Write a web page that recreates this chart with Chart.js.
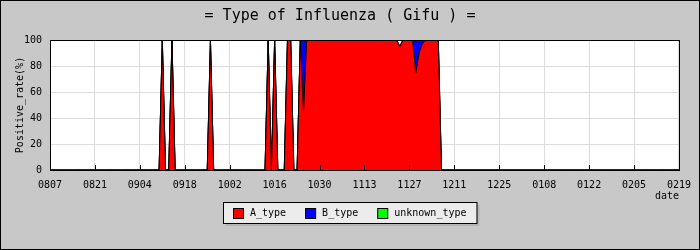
<!DOCTYPE html>
<html>
<head>
<meta charset="utf-8">
<script src="https://cdn.jsdelivr.net/npm/chart.js@4/dist/chart.umd.min.js"></script>
<style>
body { margin: 0; background: #c8c8c8; }
canvas { display: block; }
</style>
</head>
<body>
<canvas id="typeChart" width="700" height="250"></canvas>
<script>
const tickLabels = ['0807', '0821', '0904', '0918', '1002', '1016', '1030', '1113',
    '1127', '1211', '1225', '0108', '0122', '0205', '0219']

// one category per day, 2008-08-07 .. 2009-02-19
const days = []
for (let d = new Date(2008, 7, 7); days.length < 197; d.setDate(d.getDate() + 1)) {
    days.push(String(d.getMonth() + 1).padStart(2, '0') + String(d.getDate()).padStart(2, '0'))
}

// positive rate (%), one row = two weeks
const aType = [
    0, 0, 0, 0, 0, 0, 0, 0, 0, 0, 0, 0, 0, 0,
    0, 0, 0, 0, 0, 0, 0, 0, 0, 0, 0, 0, 0, 0,
    0, 0, 0, 0, 0, 0, 0, 100, 0, 0, 100, 0, 0, 0,
    0, 0, 0, 0, 0, 0, 0, 0, 100, 0, 0, 0, 0, 0,
    0, 0, 0, 0, 0, 0, 0, 0, 0, 0, 0, 0, 100, 0,
    100, 0, 0, 0, 100, 100, 0, 0, 100, 45, 100, 100, 100, 100,
    100, 100, 100, 100, 100, 100, 100, 100, 100, 100, 100, 100, 100, 100,
    100, 100, 100, 100, 100, 100, 100, 100, 100, 100, 100, 95, 100, 100,
    100, 100, 75, 90, 97, 100, 100, 100, 100, 100, 0, 0, 0, 0,
    0, 0, 0, 0, 0, 0, 0, 0, 0, 0, 0, 0, 0, 0,
    0, 0, 0, 0, 0, 0, 0, 0, 0, 0, 0, 0, 0, 0,
    0, 0, 0, 0, 0, 0, 0, 0, 0, 0, 0, 0, 0, 0,
    0, 0, 0, 0, 0, 0, 0, 0, 0, 0, 0, 0, 0, 0,
    0, 0, 0, 0, 0, 0, 0, 0, 0, 0, 0, 0, 0, 0,
    0
]
const bType = [
    0, 0, 0, 0, 0, 0, 0, 0, 0, 0, 0, 0, 0, 0,
    0, 0, 0, 0, 0, 0, 0, 0, 0, 0, 0, 0, 0, 0,
    0, 0, 0, 0, 0, 0, 0, 0, 0, 0, 0, 0, 0, 0,
    0, 0, 0, 0, 0, 0, 0, 0, 0, 0, 0, 0, 0, 0,
    0, 0, 0, 0, 0, 0, 0, 0, 0, 0, 0, 0, 0, 0,
    0, 0, 0, 0, 0, 0, 0, 0, 0, 55, 0, 0, 0, 0,
    0, 0, 0, 0, 0, 0, 0, 0, 0, 0, 0, 0, 0, 0,
    0, 0, 0, 0, 0, 0, 0, 0, 0, 0, 0, 0, 0, 0,
    0, 0, 25, 10, 3, 0, 0, 0, 0, 0, 0, 0, 0, 0,
    0, 0, 0, 0, 0, 0, 0, 0, 0, 0, 0, 0, 0, 0,
    0, 0, 0, 0, 0, 0, 0, 0, 0, 0, 0, 0, 0, 0,
    0, 0, 0, 0, 0, 0, 0, 0, 0, 0, 0, 0, 0, 0,
    0, 0, 0, 0, 0, 0, 0, 0, 0, 0, 0, 0, 0, 0,
    0, 0, 0, 0, 0, 0, 0, 0, 0, 0, 0, 0, 0, 0,
    0
]
const unknownType = [
    0, 0, 0, 0, 0, 0, 0, 0, 0, 0, 0, 0, 0, 0,
    0, 0, 0, 0, 0, 0, 0, 0, 0, 0, 0, 0, 0, 0,
    0, 0, 0, 0, 0, 0, 0, 0, 0, 0, 0, 0, 0, 0,
    0, 0, 0, 0, 0, 0, 0, 0, 0, 0, 0, 0, 0, 0,
    0, 0, 0, 0, 0, 0, 0, 0, 0, 0, 0, 0, 0, 0,
    0, 0, 0, 0, 0, 0, 0, 0, 0, 0, 0, 0, 0, 0,
    0, 0, 0, 0, 0, 0, 0, 0, 0, 0, 0, 0, 0, 0,
    0, 0, 0, 0, 0, 0, 0, 0, 0, 0, 0, 0, 0, 0,
    0, 0, 0, 0, 0, 0, 0, 0, 0, 0, 0, 0, 0, 0,
    0, 0, 0, 0, 0, 0, 0, 0, 0, 0, 0, 0, 0, 0,
    0, 0, 0, 0, 0, 0, 0, 0, 0, 0, 0, 0, 0, 0,
    0, 0, 0, 0, 0, 0, 0, 0, 0, 0, 0, 0, 0, 0,
    0, 0, 0, 0, 0, 0, 0, 0, 0, 0, 0, 0, 0, 0,
    0, 0, 0, 0, 0, 0, 0, 0, 0, 0, 0, 0, 0, 0,
    0
]

const MONO = 'DejaVu Sans Mono'
Chart.defaults.font.family = MONO
Chart.defaults.font.size = 10
Chart.defaults.color = '#000'

// gray page, white plot, frame, inner tick marks and the boxed legend
const framePlugin = {
    id: 'framePlugin',
    beforeDraw(chart) {
        const { ctx, chartArea: a } = chart
        ctx.save()
        ctx.fillStyle = '#c8c8c8'
        ctx.fillRect(0, 0, chart.width, chart.height)
        ctx.strokeStyle = '#000'
        ctx.lineWidth = 1
        ctx.strokeRect(0.5, 0.5, chart.width - 1, chart.height - 1)
        ctx.fillStyle = '#fff'
        ctx.fillRect(a.left, a.top, a.right - a.left, a.bottom - a.top)
        ctx.restore()
    },
    afterDatasetsDraw(chart) {
        const { ctx, chartArea: a } = chart
        const x = chart.scales.x
        ctx.save()
        ctx.strokeStyle = '#000'
        ctx.lineWidth = 1
        ctx.beginPath()
        for (let t of tickLabels) {
            let px = Math.round(x.getPixelForValue(days.indexOf(t))) + 0.5
            ctx.moveTo(px, a.bottom)
            ctx.lineTo(px, a.bottom - 5)
        }
        ctx.stroke()
        ctx.strokeRect(Math.round(a.left) + 0.5, Math.round(a.top) + 0.5,
            Math.round(a.right - a.left), Math.round(a.bottom - a.top))
        ctx.restore()
    },
    afterDraw(chart) {
        const ctx = chart.ctx
        const sets = chart.data.datasets
        ctx.save()
        ctx.font = '10px "' + MONO + '"'
        let total = 0
        for (let s of sets) total += 17 + ctx.measureText(s.label).width
        total += 19 * (sets.length - 1)
        const boxW = total + 20, boxH = 21
        const left = Math.round(350 - boxW / 2), top = 202
        ctx.fillStyle = '#b4b4b4'
        ctx.fillRect(left + 3, top + 3, boxW, boxH)
        ctx.fillStyle = '#ececec'
        ctx.fillRect(left, top, boxW, boxH)
        ctx.strokeStyle = '#000'
        ctx.lineWidth = 1
        ctx.strokeRect(left + 0.5, top + 0.5, boxW, boxH)
        let xx = left + 10
        ctx.textBaseline = 'middle'
        for (let s of sets) {
            ctx.fillStyle = s.backgroundColor
            ctx.fillRect(xx, top + 6, 10, 10)
            ctx.strokeRect(xx + 0.5, top + 6.5, 10, 10)
            ctx.fillStyle = '#000'
            ctx.fillText(s.label, xx + 17, top + 11.5)
            xx += 17 + ctx.measureText(s.label).width + 19
        }
        ctx.restore()
    }
}

function series(label, data, color, fill) {
    return {
        label: label,
        data: data,
        backgroundColor: color,
        borderColor: '#000',
        borderWidth: 1,
        pointRadius: 0,
        tension: 0,
        fill: fill
    }
}

new Chart(document.getElementById('typeChart'), {
    type: 'line',
    data: {
        labels: days,
        datasets: [
            series('A_type', aType, '#ff0000', 'origin'),
            series('B_type', bType, '#0000ff', '-1'),
            series('unknown_type', unknownType, '#00ff00', '-1')
        ]
    },
    options: {
        responsive: false,
        animation: false,
        layout: { padding: { left: 0, right: 20, top: 0, bottom: 0 } },
        plugins: {
            legend: { display: false },
            tooltip: { enabled: false },
            title: {
                display: true,
                text: '= Type of Influenza ( Gifu ) =',
                font: { family: MONO, size: 15, weight: 'normal' },
                color: '#000',
                padding: { top: 7, bottom: 15 }
            }
        },
        scales: {
            x: {
                afterFit: s => { s.height = 80 },
                grid: { color: '#dcdcdc', drawTicks: false },
                border: { display: false },
                ticks: {
                    autoSkip: false,
                    maxRotation: 0,
                    padding: 9,
                    callback: function (v) {
                        let lbl = this.getLabelForValue(v)
                        return tickLabels.includes(lbl) ? lbl : null
                    }
                },
                title: { display: true, text: 'date', align: 'end', padding: { top: 0, bottom: 48 } }
            },
            y: {
                stacked: true,
                min: 0,
                max: 100,
                afterFit: s => { s.width = 50 },
                grid: { color: '#dcdcdc', drawTicks: false },
                border: { display: false },
                ticks: { stepSize: 20, padding: 8 },
                title: { display: true, text: 'Positive_rate(%)', padding: { top: 14, bottom: 0 } }
            }
        }
    },
    plugins: [framePlugin]
})
</script>
</body>
</html>
